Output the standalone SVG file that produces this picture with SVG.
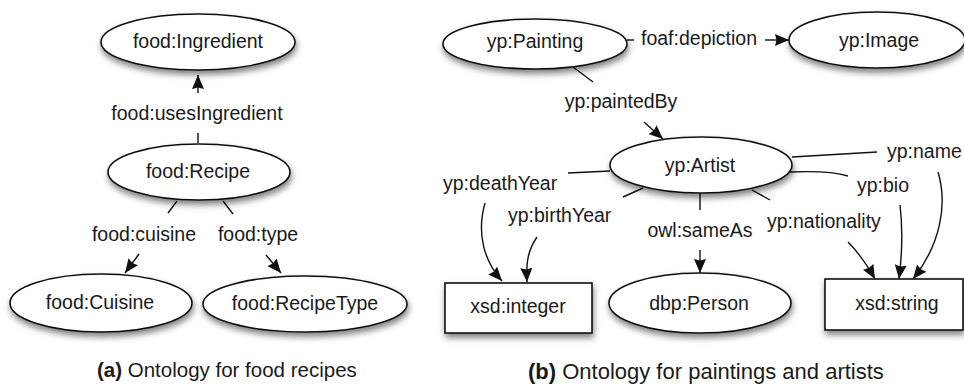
<svg xmlns="http://www.w3.org/2000/svg" width="964" height="386" viewBox="0 0 964 386">
<defs>
<style>
.n{fill:#fff;stroke:#111;stroke-width:1.6;filter:url(#sh)}
.t{font-family:"Liberation Sans",Arial,sans-serif;font-size:19.5px;fill:#1a1a1a}
.m{text-anchor:middle}
.c{fill:none;stroke:#111;stroke-width:1.4}
.a{marker-end:url(#ah)}
.cap{font-family:"Liberation Sans",Arial,sans-serif;fill:#1a1a1a}
</style>
<filter id="sh" x="-20%" y="-30%" width="140%" height="180%">
<feDropShadow dx="1" dy="4" stdDeviation="3" flood-color="#000" flood-opacity="0.5"/>
</filter>
<marker id="ah" viewBox="0 0 14 12" refX="14" refY="6" markerWidth="14" markerHeight="12" markerUnits="userSpaceOnUse" orient="auto">
<path d="M0,0 L14,6 L0,12 L1.5,6 z" fill="#111"/>
</marker>
</defs>
<rect width="964" height="386" fill="#fff"/>

<g id="connectors">
<path class="c a" d="M198,93 L198,75"/>
<path class="c" d="M198,133 L198,143"/>
<path class="c" d="M177,201 L168,213"/>
<path class="c a" d="M139,254 L125,273"/>
<path class="c" d="M223,201 L233,214"/>
<path class="c a" d="M266,255 L281,273"/>
<path class="c" d="M627,40 L634,40"/>
<path class="c a" d="M765,40 L789,40"/>
<path class="c" d="M573,67 L593,82"/>
<path class="c a" d="M644,122 L663,139"/>
<path class="c" d="M610,171 L568,173"/>
<path class="c a" d="M485,203 C476,235 485,262 502,281"/>
<path class="c" d="M643,188 L623,197"/>
<path class="c a" d="M537,237 C528,250 526,262 527,282"/>
<path class="c" d="M700,193 L700,210"/>
<path class="c a" d="M700,250 L700,273"/>
<path class="c" d="M752,190 L770,200"/>
<path class="c a" d="M848,242 C858,252 866,263 875,279"/>
<path class="c" d="M790,172 C815,171 835,172 848,176"/>
<path class="c a" d="M900,205 C903,230 902,255 899,279"/>
<path class="c" d="M792,157 L877,152"/>
<path class="c a" d="M938,172 C948,205 940,245 913,279"/>
</g>

<g id="edge-labels">
<text class="t m" x="197" y="120">food:usesIngredient</text>
<text class="t m" x="144" y="241">food:cuisine</text>
<text class="t m" x="258" y="241">food:type</text>
<text class="t" x="641" y="45">foaf:depiction</text>
<text class="t m" x="621" y="108">yp:paintedBy</text>
<text class="t" x="887" y="158">yp:name</text>
<text class="t" x="443" y="190">yp:deathYear</text>
<text class="t" x="857" y="192">yp:bio</text>
<text class="t" x="508" y="222">yp:birthYear</text>
<text class="t m" x="700" y="237">owl:sameAs</text>
<text class="t" x="767" y="228">yp:nationality</text>
</g>

<g id="food-Ingredient">
<ellipse class="n" cx="198" cy="42" rx="97" ry="28"/>
<text class="t m" x="198" y="48">food:Ingredient</text>
</g>
<g id="food-Recipe">
<ellipse class="n" cx="199" cy="172" rx="91" ry="28"/>
<text class="t m" x="198" y="178">food:Recipe</text>
</g>
<g id="food-Cuisine">
<ellipse class="n" cx="101" cy="303" rx="91" ry="29"/>
<text class="t m" x="100" y="309">food:Cuisine</text>
</g>
<g id="food-RecipeType">
<ellipse class="n" cx="305" cy="304" rx="102" ry="28"/>
<text class="t m" x="305" y="310">food:RecipeType</text>
</g>

<g id="yp-Painting">
<ellipse class="n" cx="535" cy="44" rx="92" ry="25"/>
<text class="t m" x="535" y="48">yp:Painting</text>
</g>
<g id="yp-Image">
<ellipse class="n" cx="877" cy="40" rx="88" ry="28"/>
<text class="t m" x="879" y="47">yp:Image</text>
</g>
<g id="yp-Artist">
<ellipse class="n" cx="701" cy="165" rx="91" ry="28"/>
<text class="t m" x="700" y="172">yp:Artist</text>
</g>
<g id="xsd-integer">
<rect class="n" x="445" y="283" width="147" height="50"/>
<text class="t m" x="518" y="313">xsd:integer</text>
</g>
<g id="dbp-Person">
<ellipse class="n" cx="700" cy="303" rx="91" ry="30"/>
<text class="t m" x="699" y="310">dbp:Person</text>
</g>
<g id="xsd-string">
<rect class="n" x="825" y="279" width="138" height="51"/>
<text class="t m" x="897" y="310">xsd:string</text>
</g>

<g id="captions">
<text class="cap" x="97" y="377" font-size="20.5"><tspan font-weight="bold">(a)</tspan> Ontology for food recipes</text>
<text class="cap" x="528" y="379" font-size="22"><tspan font-weight="bold">(b)</tspan> Ontology for paintings and artists</text>
</g>
</svg>
